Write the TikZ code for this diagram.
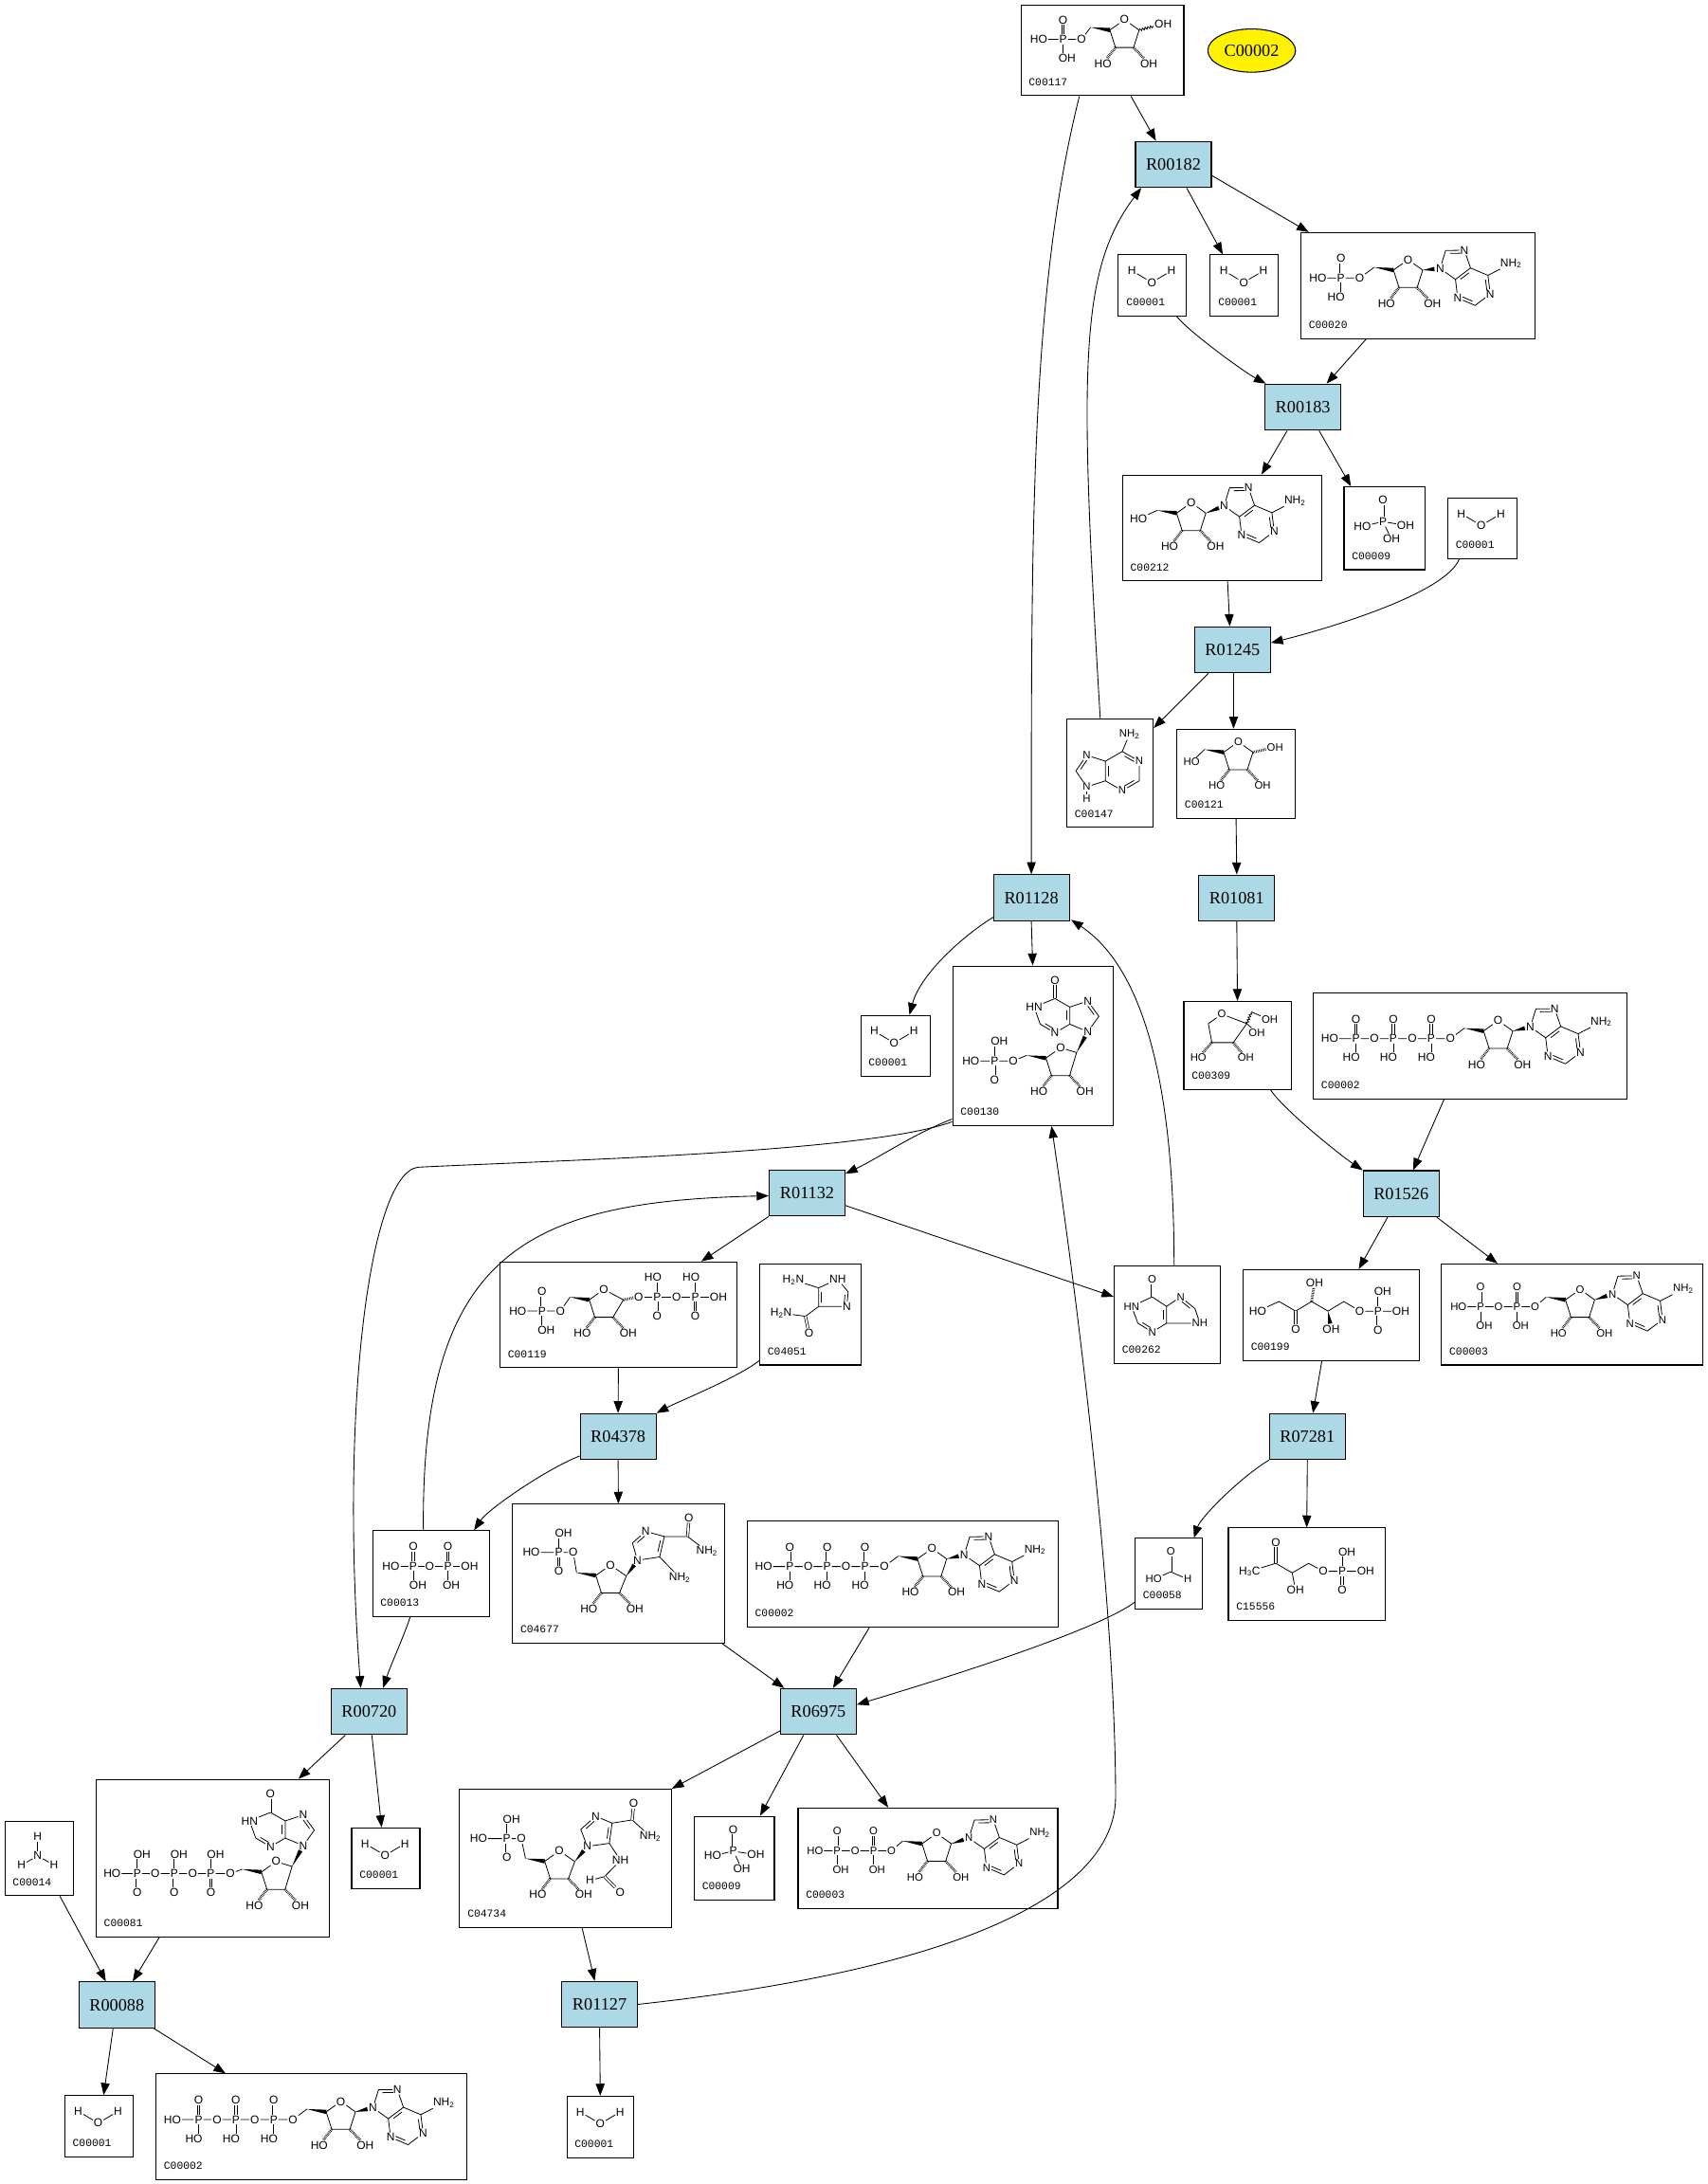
\documentclass[tikz,border=0pt]{standalone}
\usepackage{fontspec}
\setmainfont{Liberation Serif}
\newfontfamily\atomfont{Liberation Sans}
\newfontfamily\idfont{Liberation Mono}
\usetikzlibrary{arrows.meta,calc,positioning,shapes.geometric,decorations.pathmorphing}
\definecolor{rxnblue}{HTML}{ADD8E6}
\newcommand{\asz}{9}
\tikzset{%
	reaction/.style = {draw, rectangle, fill=rxnblue, line width=0.8pt, minimum width=60pt, minimum height=36.4pt, inner sep=0pt, font=\fontsize{13.7}{14}\selectfont},
	compound/.style = {draw, rectangle, line width=0.8pt, inner sep=0pt},
	ellip/.style    = {draw, ellipse, fill=yellow, line width=0.8pt, minimum width=69.4pt, minimum height=34.2pt, inner sep=0pt, font=\fontsize{13.7}{14}\selectfont},
	idlabel/.style  = {inner sep=0pt, font=\idfont\fontsize{8.5}{8.5}\selectfont},
	atm/.style      = {inner sep=0.5pt, font=\atomfont\fontsize{\asz}{\asz}\selectfont}, % atom label
	dbl/.style      = {double, double distance=1.3pt, line width=0.55pt},
	hb/.style       = {line width=2.2pt, dash pattern=on 0.45pt off 0.8pt}, % hashed bond
	wavy/.style     = {decorate, decoration={snake, amplitude=0.9pt, segment length=2.2pt}},
	waypoint/.style = {coordinate},
	link/.style     = {line width=0.65pt, -{Triangle[length=9.5pt,width=7pt]}},
}
% wedge bond, narrow at #2, wide at #3
\newcommand{\wdg}[3][4.5pt]{%
	\coordinate (wq) at ($(#3)!#1!(#2)$);
	\fill (#2) -- ($(wq)!1.7pt!90:(#2)$) -- ($(wq)!1.7pt!-90:(#2)$) -- cycle;}
% inner line of a ring double bond
\newcommand{\ibond}[3]{\draw ($(#1)!0.22!(#2)!2.3pt!#3:(#2)$) -- ($(#1)!0.78!(#2)!2.3pt!#3:(#2)$);}
% P with =O above
\newcommand{\Pu}[5]{%
	\node[atm] (#1) at (#2,#3) {P};
	\node[atm] (#1t) at (#2,#3-14) {O};
	\node[atm] (#1b) at (#2#5,#3+13.6) {#4};
	\draw[dbl] (#1.north) -- (#1.north |- #1t.south);
	\draw (#1.south) -- (#1.south |- #1b.north);}
% P with =O below
\newcommand{\Pd}[5]{%
	\node[atm] (#1) at (#2,#3) {P};
	\node[atm] (#1t) at (#2#5,#3-14) {#4};
	\node[atm] (#1b) at (#2,#3+13.6) {O};
	\draw (#1.north) -- (#1.north |- #1t.south);
	\draw[dbl] (#1.south) -- (#1.south |- #1b.north);}
% ribose ring, ring O at (#1,#2), C1' offset (#3,#4)
\newcommand{\ribring}[4]{%
	\node[atm] (ro) at (#1,#2) {O};
	\coordinate (c1) at (#1+#3,#2+#4);
	\coordinate (c4) at (#1-10.5,#2+7.5);
	\coordinate (c2) at (#1+6.5,#2+20);
	\coordinate (c3) at (#1-6.5,#2+20);
	\coordinate (c5) at (#1-24.3,#2+5.5);
	\node[atm] (ho3) at (#1-15.5,#2+31.5) {HO};
	\node[atm] (oh2) at (#1+17.5,#2+31.5) {OH};
	\draw (c4) -- (ro) -- (c1) -- (c2) -- (c3) -- (c4);
	\draw[hb] (c3) -- (ho3);
	\draw[hb] (c2) -- (oh2);
	\wdg[0pt]{c5}{c4}}
% adenine, N9 at (#1,#2)
\newcommand{\adenine}[2]{%
	\begin{scope}[shift={(#1,#2)}, rotate=7, scale=1.04]
	\node[atm] (n9) at (0,0) {N};
	\coordinate (a8) at (5.3,-11.9);
	\node[atm] (n7) at (18.2,-10.5) {N};
	\coordinate (a5) at (20.9,2.2);
	\coordinate (a4) at (9.6,8.7);
	\coordinate (a6) at (32.2,8.7);
	\node[atm] (n1) at (32.2,21.7) {N};
	\coordinate (a2) at (20.9,28.2);
	\node[atm] (n3) at (9.6,21.7) {N};
	\node[atm] (nh) at (49,2.5) {NH\textsubscript{2}};
	\end{scope}
	\draw (n9) -- (a8) -- (n7) -- (a5) -- (a4) -- (n9);
	\draw (a5) -- (a6) -- (n1) -- (a2) -- (n3) -- (a4);
	\draw (a6) -- (nh);
	\ibond{a8}{n7}{-90}\ibond{a4}{a5}{-90}\ibond{a6}{n1}{-90}\ibond{a2}{n3}{-90}}
% hypoxanthine above a ribose whose ring O is at (#1,#2)
\newcommand{\hypox}[2]{%
	\node[atm] (o6) at (#1-4,#2-48.5) {O};
	\coordinate (h6) at (#1-4,#2-35.3);
	\node[atm] (hn) at (#1-19,#2-29.2) {HN};
	\coordinate (h2) at (#1-14.6,#2-16.9);
	\node[atm] (n3) at (#1-4,#2-10.7) {N};
	\coordinate (h4) at (#1+6.6,#2-16.9);
	\coordinate (h5) at (#1+6.6,#2-29.2);
	\node[atm] (n7) at (#1+19.5,#2-33.5) {N};
	\coordinate (h8) at (#1+27.5,#2-22.5);
	\node[atm] (n9) at (#1+19.5,#2-11.5) {N};
	\draw (h6) -- (hn) -- (h2) -- (n3) -- (h4) -- (h5) -- (h6);
	\draw (h5) -- (n7) -- (h8) -- (n9) -- (h4);
	\draw[dbl] (h6) -- (o6);
	\ibond{h2}{n3}{90}\ibond{h4}{h5}{90}\ibond{n7}{h8}{-90}
	\wdg{c1}{n9}}
% compound box: name, x1, y1, x2, y2, id, structure
\newcommand{\cpd}[7]{%
	\node[compound, minimum width={(#4-#2)*1.102pt}, minimum height={(#5-#3)*1.102pt}] (#1) at ({(#2+#4)/2},{(#3+#5)/2}) {};
	\node[idlabel, anchor=west] at (#2+5.5,#5-9.8) {#6};
	\begin{scope}[shift={(#2,#3)}, line width=0.6pt]#7\end{scope}}
% structures
\newcommand{\molW}{%
	\node[atm] (h1) at (9.7,11.3) {H};
	\node[atm] (o1) at (24,19.8) {O};
	\node[atm] (h2) at (38.2,11.3) {H};
	\draw (h1) -- (o1) -- (h2);}
\newcommand{\molNH}{%
	\node[atm] (n1) at (23.6,24.9) {N};
	\node[atm] (h1) at (23.6,11) {H};
	\node[atm] (h2) at (12,31.5) {H};
	\node[atm] (h3) at (35.2,31.5) {H};
	\draw (n1) -- (h1); \draw (n1) -- (h2); \draw (n1) -- (h3);}
\newcommand{\molPi}{%
	\node[atm] (pa) at (28,25) {P};
	\node[atm] (o1) at (28,9.5) {O};
	\node[atm] (o2) at (13.2,28.4) {HO};
	\node[atm] (o3) at (44.2,27.7) {OH};
	\node[atm] (o4) at (34.1,37.6) {OH};
	\draw[dbl] (pa) -- (o1);
	\draw (pa) -- (o2); \draw (pa) -- (o3); \draw (pa) -- (o4);}
\newcommand{\molPPi}{%
	\node[atm] (ho) at (13.2,25.4) {HO};
	\Pu{pa}{29.2}{25.4}{OH}{+3.4}
	\node[atm] (oa) at (41,25.4) {O};
	\Pu{pb}{54.1}{25.4}{OH}{+2.4}
	\node[atm] (oh) at (69.7,25.4) {OH};
	\draw (ho) -- (pa) -- (oa) -- (pb) -- (oh);}
\newcommand{\molFOR}{%
	\renewcommand{\asz}{8.5}
	\node[atm] (o1) at (25.6,9.4) {O};
	\coordinate (f1) at (25.6,24);
	\node[atm] (ho) at (13.3,29.3) {HO};
	\node[atm] (h1) at (37.8,29.3) {H};
	\draw[dbl] (f1) -- (o1);
	\draw (ho) -- (f1) -- (h1);}
\newcommand{\molATP}{%
	\node[atm] (ho) at (11.8,32.7) {HO};
	\Pu{pa}{30.6}{32.7}{HO}{-3.4}
	\node[atm] (oa) at (43.8,32.7) {O};
	\Pu{pb}{57.4}{32.7}{HO}{-3.4}
	\node[atm] (ob) at (71,32.7) {O};
	\Pu{pc}{84.6}{32.7}{HO}{-3.4}
	\node[atm] (oc) at (98.4,32.7) {O};
	\ribring{132.7}{19.7}{10.5}{7.5}
	\adenine{155.8}{24.3}
	\draw (ho) -- (pa) -- (oa) -- (pb) -- (ob) -- (pc) -- (oc) -- (c5);
	\wdg{c1}{n9}}
\newcommand{\molNAD}{%
	\renewcommand{\asz}{8.5}
	\node[atm] (ho) at (12.2,30.7) {HO};
	\Pu{pa}{28.1}{30.7}{OH}{+2.6}
	\node[atm] (oa) at (41,30.7) {O};
	\Pu{pb}{54.2}{30.7}{OH}{+2.6}
	\node[atm] (ob) at (67.1,30.7) {O};
	\ribring{99.5}{18.2}{10.5}{7.5}
	\adenine{122.7}{21.6}
	\draw (ho) -- (pa) -- (oa) -- (pb) -- (ob) -- (c5);
	\wdg{c1}{n9}}
\newcommand{\molAMP}{%
	\node[atm] (ho) at (12.2,32.6) {HO};
	\Pu{pa}{28.8}{32.6}{HO}{-3.4}
	\node[atm] (oa) at (42.2,32.6) {O};
	\ribring{77}{19.4}{10.5}{7.5}
	\adenine{100}{25.8}
	\draw (ho) -- (pa) -- (oa) -- (c5);
	\wdg{c1}{n9}}
\newcommand{\molADO}{%
	\node[atm] (ho) at (11.5,31.5) {HO};
	\ribring{49.3}{19.9}{10.5}{7.5}
	\adenine{72.9}{22.2}
	\draw (ho) -- (c5);
	\wdg{c1}{n9}}
\newcommand{\molADE}{%
	\renewcommand{\asz}{8.5}
	\node[atm] (nh) at (45,10.7) {NH\textsubscript{2}};
	\coordinate (a6) at (39.8,23);
	\node[atm] (n1) at (52,30) {N};
	\coordinate (a2) at (52,44.1);
	\node[atm] (n3) at (39.8,51.1) {N};
	\coordinate (a4) at (27.7,44.1);
	\coordinate (a5) at (27.7,30);
	\node[atm] (n7) at (14.3,25.7) {N};
	\coordinate (a8) at (6.5,37);
	\node[atm] (n9) at (14.3,48.4) {N};
	\node[atm] (h9) at (14.3,57) {H};
	\draw (a5) -- (a6) -- (n1) -- (a2) -- (n3) -- (a4) -- (a5);
	\draw (a5) -- (n7) -- (a8) -- (n9) -- (a4);
	\draw (a6) -- (nh); \draw (n9) -- (h9);
	\ibond{a6}{n1}{-90}\ibond{a2}{n3}{-90}\ibond{a4}{a5}{-90}\ibond{n7}{a8}{90}}
\newcommand{\molRFP}{%
	\node[atm] (ho) at (12.8,24.8) {HO};
	\Pu{pa}{30.3}{24.8}{OH}{+2.9}
	\node[atm] (oa) at (43.6,24.8) {O};
	\ribring{74.4}{10.6}{10.5}{7.5}
	\node[atm] (oh1) at (102.2,13.5) {OH};
	\draw (ho) -- (pa) -- (oa) -- (c5);
	\draw[wavy] (c1) -- (oh1);}
\newcommand{\molRIB}{%
	\renewcommand{\asz}{8.5}
	\ribring{44.1}{9.1}{10.5}{7.5}
	\node[atm] (ho) at (10.5,23.6) {HO};
	\node[atm] (oh1) at (70.5,13) {OH};
	\draw (ho) -- (c5);
	\draw[hb] (c1) -- (oh1);}
\newcommand{\molPRPP}{%
	\node[atm] (ho) at (12.8,35.2) {HO};
	\Pu{pa}{30.2}{35.2}{OH}{+3}
	\node[atm] (oa) at (43.4,35.2) {O};
	\ribring{74.6}{19.7}{14}{7.5}
	\node[atm] (o1) at (99.6,25) {O};
	\Pd{pb}{112.8}{25}{HO}{-3}
	\node[atm] (ob) at (126.7,25) {O};
	\Pd{pc}{140.2}{25}{HO}{-3}
	\node[atm] (oh) at (156.8,25) {OH};
	\draw (ho) -- (pa) -- (oa) -- (c5);
	\draw[hb] (c1) -- (o1);
	\draw (o1) -- (pb) -- (ob) -- (pc) -- (oh);}
\newcommand{\molIMP}{%
	\ribring{77.5}{58.7}{11.5}{3.5}
	\hypox{77.5}{58.7}
	\node[atm] (o5) at (43.6,68.2) {O};
	\Pd{pa}{30.1}{68.2}{OH}{+3.4}
	\node[atm] (ho) at (13.1,68.2) {HO};
	\draw (ho) -- (pa) -- (o5) -- (c5);}
\newcommand{\molITP}{%
	\ribring{129.2}{59}{11.5}{3.5}
	\hypox{129.2}{59}
	\node[atm] (o5) at (96.4,67.6) {O};
	\Pd{pc}{82.4}{67.6}{OH}{+3.4}
	\node[atm] (ob) at (69.3,67.6) {O};
	\Pd{pb}{56.1}{67.6}{OH}{+3.4}
	\node[atm] (oa) at (42.5,67.6) {O};
	\Pd{pa}{29.6}{67.6}{OH}{+3.4}
	\node[atm] (ho) at (11.5,67.6) {HO};
	\draw (ho) -- (pa) -- (oa) -- (pb) -- (ob) -- (pc) -- (o5) -- (c5);}
\newcommand{\molRUL}{%
	\renewcommand{\asz}{8.5}
	\node[atm] (ro) at (27.3,9.1) {O};
	\coordinate (b1) at (17.6,15.9);
	\coordinate (b2) at (20.1,29.5);
	\coordinate (b3) at (35.5,29.5);
	\coordinate (b4) at (45.2,15.9);
	\coordinate (b5) at (48.6,7.5);
	\node[atm] (oh4) at (52.4,22.4) {OH};
	\node[atm] (oh5) at (61.7,13.2) {OH};
	\node[atm] (ho2) at (10.4,40.3) {HO};
	\node[atm] (oh3) at (44.5,40.3) {OH};
	\draw (b1) -- (ro) -- (b4) -- (b3) -- (b2) -- (b1);
	\draw (b4) -- (oh4);
	\draw[wavy] (b4) -- (b5);
	\draw (b5) -- (oh5);
	\draw[hb] (b2) -- (ho2);
	\draw[hb] (b3) -- (oh3);}
\newcommand{\molRLP}{%
	\node[atm] (ho) at (10.5,29.8) {HO};
	\coordinate (k1) at (25.9,22.9);
	\coordinate (k2) at (37.8,29.8);
	\node[atm] (ok) at (37.8,42.8) {O};
	\coordinate (k3) at (49.2,22.9);
	\node[atm] (oh3) at (51.4,9.2) {OH};
	\coordinate (k4) at (61,29.8);
	\node[atm] (oh4) at (63.3,42.8) {OH};
	\coordinate (k5) at (72.4,22.9);
	\node[atm] (oa) at (83.8,29.8) {O};
	\Pd{pa}{96.9}{29.8}{OH}{+3.4}
	\node[atm] (oh) at (113.3,29.8) {OH};
	\draw (ho) -- (k1) -- (k2) -- (k3) -- (k4) -- (k5) -- (oa) -- (pa) -- (oh);
	\draw[dbl] (k2) -- (ok);
	\draw[hb] (k3) -- (oh3);
	\wdg{k4}{oh4}}
\newcommand{\molHBP}{%
	\node[atm] (o1) at (34,10.2) {O};
	\coordinate (k2) at (34,25.4);
	\node[atm] (me) at (15.2,31.1) {H\textsubscript{3}C};
	\coordinate (k3) at (45.8,32.2);
	\node[atm] (oh3) at (48.1,44.2) {OH};
	\coordinate (k4) at (57.6,25.4);
	\node[atm] (oa) at (68.1,31.1) {O};
	\Pd{pa}{81.7}{31.1}{OH}{+3.4}
	\node[atm] (oh) at (98.5,31.1) {OH};
	\draw[dbl] (k2) -- (o1);
	\draw (me) -- (k2) -- (k3) -- (k4) -- (oa) -- (pa) -- (oh);
	\draw (k3) -- (oh3);}
\newcommand{\molAIC}{%
	\node[atm] (na) at (24.1,11.4) {H\textsubscript{2}N};
	\coordinate (i5) at (42.3,17.1);
	\node[atm] (n1) at (56,11) {NH};
	\coordinate (i2) at (63.5,20);
	\node[atm] (n3) at (62.5,30.5) {N};
	\coordinate (i4) at (42.3,30.5);
	\coordinate (ca) at (32.8,37.5);
	\node[atm] (oc) at (35.3,49.6) {O};
	\node[atm] (nb) at (15.4,35.2) {H\textsubscript{2}N};
	\draw (i5) -- (n1) -- (i2) -- (n3) -- (i4) -- (i5);
	\draw (na) -- (i5); \draw (i4) -- (ca) -- (nb);
	\draw[dbl] (ca) -- (oc);
	\ibond{i4}{i5}{-90}\ibond{i2}{n3}{-90}}
\newcommand{\molHPX}{%
	\renewcommand{\asz}{8.5}
	\node[atm] (o6) at (27.3,9.7) {O};
	\coordinate (h6) at (27.3,22.1);
	\node[atm] (hn) at (12.5,28.9) {HN};
	\coordinate (h2) at (17,41);
	\node[atm] (n3) at (27.3,47.3) {N};
	\coordinate (h4) at (37.6,41);
	\coordinate (h5) at (37.6,28.9);
	\node[atm] (n7) at (47.7,22.1) {N};
	\coordinate (h8) at (58,30.5);
	\node[atm] (n9) at (61.5,41) {NH};
	\draw (h6) -- (hn) -- (h2) -- (n3) -- (h4) -- (h5) -- (h6);
	\draw (h5) -- (n7) -- (h8) -- (n9) -- (h4);
	\draw[dbl] (h6) -- (o6);
	\ibond{h2}{n3}{90}\ibond{h4}{h5}{90}\ibond{n7}{h8}{-90}}
\newcommand{\molAICAR}{%
	\node[atm] (ho) at (13.5,34.6) {HO};
	\Pd{pa}{33.2}{34.6}{OH}{+3.4}
	\node[atm] (o5) at (43.6,34.6) {O};
	\ribring{70.3}{43.6}{11.4}{7.9}
	\node[atm] (n1) at (89.7,40.2) {N};
	\coordinate (j2) at (86.1,27.8);
	\node[atm] (n3) at (95.6,19.4) {N};
	\coordinate (j4) at (109,23.1);
	\coordinate (j5) at (105.6,37.8);
	\coordinate (ca) at (125.7,23.1);
	\node[atm] (oc) at (126.7,9.7) {O};
	\node[atm] (nc) at (139.6,33.7) {NH\textsubscript{2}};
	\node[atm] (nd) at (120,52.7) {NH\textsubscript{2}};
	\draw (ho) -- (pa) -- (o5) -- (c5);
	\draw (n1) -- (j2) -- (n3) -- (j4) -- (j5) -- (n1);
	\draw (j4) -- (ca) -- (nc); \draw[dbl] (ca) -- (oc);
	\draw (j5) -- (nd);
	\wdg{c1}{n1}
	\ibond{j2}{n3}{-90}\ibond{j4}{j5}{-90}}
\newcommand{\molFAICAR}{%
	\node[atm] (ho) at (13.6,35.5) {HO};
	\Pd{pa}{33.9}{35.5}{OH}{+3.4}
	\node[atm] (o5) at (44.3,35.5) {O};
	\ribring{71.6}{44.3}{11.1}{7.7}
	\node[atm] (n1) at (91.7,41.1) {N};
	\coordinate (j2) at (87,28.9);
	\node[atm] (n3) at (97.7,19.4) {N};
	\coordinate (j4) at (109.5,24.4);
	\coordinate (j5) at (107.5,38.9);
	\coordinate (ca) at (123.9,22.1);
	\node[atm] (oc) at (125,10.4) {O};
	\node[atm] (nc) at (136.9,33.9) {NH\textsubscript{2}};
	\node[atm] (nd) at (115.5,51.1) {NH};
	\coordinate (cf) at (104.1,62.8);
	\node[atm] (hf) at (93.6,65.5) {H};
	\node[atm] (of) at (115.2,74.1) {O};
	\draw (ho) -- (pa) -- (o5) -- (c5);
	\draw (n1) -- (j2) -- (n3) -- (j4) -- (j5) -- (n1);
	\draw (j4) -- (ca) -- (nc); \draw[dbl] (ca) -- (oc);
	\draw (j5) -- (nd) -- (cf) -- (hf); \draw[dbl] (cf) -- (of);
	\wdg{c1}{n1}
	\ibond{j2}{n3}{-90}\ibond{j4}{j5}{-90}}

\begin{document}
\begin{tikzpicture}[x=1.102pt, y=-1.102pt]
	\useasboundingbox (0,0) rectangle (1226,1568);
	% reactions
	\node[reaction] (r00182) at (842.5,118) {R00182};
	\node[reaction] (r00183) at (935.5,292.3) {R00183};
	\node[reaction] (r01245) at (885,466.5) {R01245};
	\node[reaction] (r01128) at (740.5,644.5) {R01128};
	\node[reaction] (r01081) at (888,644.7) {R01081};
	\node[reaction] (r01132) at (579.5,856.5) {R01132};
	\node[reaction] (r01526) at (1006,857) {R01526};
	\node[reaction] (r04378) at (443.8,1031.4) {R04378};
	\node[reaction] (r07281) at (938.7,1031.4) {R07281};
	\node[reaction] (r00720) at (265,1228.8) {R00720};
	\node[reaction] (r06975) at (587.6,1228.8) {R06975};
	\node[reaction] (r00088) at (83.9,1439.4) {R00088};
	\node[reaction] (r01127) at (430.5,1439) {R01127};
	% compounds
	\node[ellip] (c002) at (898.7,36.3) {C00002};
	\cpd{c117}{733}{3.5}{850}{68.7}{C00117}{\molRFP}
	\cpd{c001a}{803}{183}{852}{227}{C00001}{\molW}
	\cpd{c001b}{869}{183}{918}{227}{C00001}{\molW}
	\cpd{c020}{934}{167}{1102}{243}{C00020}{\molAMP}
	\cpd{c212}{806}{341}{949}{417}{C00212}{\molADO}
	\cpd{c009a}{965}{349.5}{1023}{409}{C00009}{\molPi}
	\cpd{c001c}{1039.5}{357.5}{1089}{401}{C00001}{\molW}
	\cpd{c147}{766}{516.5}{828}{594}{C00147}{\molADE}
	\cpd{c121}{845}{523.5}{930}{587.5}{C00121}{\molRIB}
	\cpd{c001d}{618}{729}{668}{772.5}{C00001}{\molW}
	\cpd{c130}{684}{693.5}{799}{808}{C00130}{\molIMP}
	\cpd{c309}{850}{719}{927}{782}{C00309}{\molRUL}
	\cpd{c002b}{943}{713}{1168}{789}{C00002}{\molATP}
	\cpd{c119}{359}{906}{529}{982}{C00119}{\molPRPP}
	\cpd{c04051}{545.5}{907.5}{618}{980}{C04051}{\molAIC}
	\cpd{c262}{800}{909}{876}{979}{C00262}{\molHPX}
	\cpd{c199}{892.5}{911.5}{1019}{977}{C00199}{\molRLP}
	\cpd{c003a}{1035}{907.5}{1222.5}{980}{C00003}{\molNAD}
	\cpd{c013}{267.5}{1099}{351.5}{1160.5}{C00013}{\molPPi}
	\cpd{c4677}{368}{1080}{520}{1179.5}{C04677}{\molAICAR}
	\cpd{c002c}{536.5}{1092}{760}{1168}{C00002}{\molATP}
	\cpd{c058}{815}{1104.5}{863.5}{1155}{C00058}{\molFOR}
	\cpd{c15556}{882}{1097}{994.5}{1163.3}{C15556}{\molHBP}
	\cpd{c001e}{252.5}{1312.3}{301.5}{1356}{C00001}{\molW}
	\cpd{c4734}{330}{1284.5}{482}{1384}{C04734}{\molFAICAR}
	\cpd{c009b}{498.5}{1304}{556}{1364}{C00009}{\molPi}
	\cpd{c003b}{573}{1298}{759.5}{1370}{C00003}{\molNAD}
	\cpd{c014}{3.5}{1307.5}{52.5}{1361}{C00014}{\molNH}
	\cpd{c081}{69}{1277.5}{236.5}{1390.5}{C00081}{\molITP}
	\cpd{c001f}{46.5}{1504.5}{95.5}{1548.5}{C00001}{\molW}
	\cpd{c002d}{112}{1489}{335}{1565}{C00002}{\molATP}
	\cpd{c001g}{407}{1505}{455}{1549}{C00001}{\molW}
	\node [waypoint] (wp1) at (300,838) {};
	\node [waypoint] (wp2) at (801,1290) {};

	% links
	\draw[link] ($(c117.south)+(20.5,0)$) -- ($(r00182.north)+(-12.5,0)$);
	\draw[link] ($(c117.south)+(-16.5,0)$) .. controls +(-35,140) and +(0,-250) .. (r01128.north);
	\draw[link] ($(r00182.south)+(9.5,0)$) -- ($(c001b.north)+(-15.5,0)$);
	\draw[link] ($(r00182.east)+(0,8)$) -- ($(c020.north west)+(6,0)$);
	\draw[link] ($(c001a.south)+(17.5,0)$) .. controls +(10,12) and +(-15,-8) .. ($(r00183.north west)+(1,0)$);
	\draw[link] ($(c020.south)+(-37,0)$) -- ($(r00183.north)+(17,0)$);
	\draw[link] ($(r00183.south)+(-11.3,0)$) -- ($(c212.north)+(28.3,0)$);
	\draw[link] ($(r00183.south)+(11.6,0)$) -- ($(c009a.north)+(-24,0)$);
	\draw[link] ($(c212.south)+(3.9,0)$) -- ($(r01245.north)+(-2,0)$);
	\draw[link] ($(c001c.south)+(-16.5,0)$) .. controls +(-10,25) and +(40,-10) .. ($(r01245.east)+(0,-5)$);
	\draw[link] ($(r01245.south)+(-17.3,0)$) -- ($(c147.north east)+(0,6.5)$);
	\draw[link] ($(r01245.south)+(0.7,0)$) -- ($(c121.north)+(-1.8,0)$);
	\draw[link] ($(c147.north)+(-7,0)$) .. controls +(-15,-250) and +(-45,60) .. ($(r00182.south west)+(4.5,0)$);
	\draw[link] (c121.south) -- (r01081.north);
	\draw[link] ($(r01128.south west)+(0.5,-3)$) .. controls +(-20,12) and +(8,-30) .. ($(c001d.north)+(10,0)$);
	\draw[link] (r01128.south) -- (c130.north);
	\draw[link] (r01081.south) -- (c309.north);
	\draw[link] ($(c130.south west)+(0,-5)$) .. controls +(-30,12) and +(25,-12) .. ($(r01132.north east)+(0,3)$);
	\draw[link] ($(c130.south west)+(0,-3)$) .. controls +(-60,22) and +(100,-5) .. (wp1) .. controls +(-35,5) and +(-15,-200) .. ($(r00720.north)+(-6,0)$);
	\draw[link] ($(c309.south)+(23.7,0)$) .. controls +(10,15) and +(-15,-10) .. (r01526.north west);
	\draw[link] ($(c002b.south)+(-18.7,0)$) -- ($(r01526.north)+(8.6,0)$);
	\draw[link] ($(r01526.south)+(-9.7,0)$) -- ($(c199.north)+(19.8,0)$);
	\draw[link] ($(r01526.south east)+(-2,0)$) -- ($(c003a.north)+(-53.5,0)$);
	\draw[link] (r01132.south west) -- ($(c119.north)+(59.5,0)$);
	\draw[link] ($(r01132.east)+(0,9)$) -- ($(c262.west)+(0,-13)$);
	\draw[link] ($(c262.north)+(5,0)$) .. controls +(0,-150) and +(45,30) .. ($(r01128.south east)+(1,-1)$);
	\draw[link] (c119.south) -- (r04378.north);
	\draw[link] ($(c04051.south west)+(0,-3.5)$) .. controls +(-15,12) and +(15,-8) .. (r04378.north east);
	\draw[link] ($(c199.south)+(-6.7,0)$) -- ($(r07281.north)+(4,0)$);
	\draw[link] ($(r04378.south west)+(0,-3)$) .. controls +(-25,10) and +(10,-15) .. ($(c013.north east)+(-11.5,0)$);
	\draw[link] (r04378.south) -- (c4677.north);
	\draw[link] ($(c013.north)+(-5.5,0)$) .. controls +(-2,-200) and +(-173,4) .. ($(r01132.west)+(0,2)$);
	\draw[link] (r07281.south west) .. controls +(-20,12) and +(5,-15) .. ($(c058.north)+(18,0)$);
	\draw[link] (r07281.south) -- (c15556.north);
	\draw[link] ($(c013.south)+(-15,0)$) .. controls +(-3,10) and +(5,-15) .. ($(r00720.north)+(10,0)$);
	\draw[link] ($(c4677.south east)+(-2,0)$) -- ($(r06975.north west)+(3,0)$);
	\draw[link] ($(c002c.south)+(-24,0)$) -- ($(r06975.north)+(10.5,0)$);
	\draw[link] ($(c058.south west)+(0,-5)$) .. controls +(-30,22) and +(50,-15) .. ($(r06975.east)+(0,-5)$);
	\draw[link] ($(r00720.south)+(-17,0)$) -- ($(c081.north)+(61.5,0)$);
	\draw[link] ($(r00720.south)+(2,0)$) -- ($(c001e.north)+(-3,0)$);
	\draw[link] ($(r06975.south west)+(0,-3)$) -- (c4734.north east);
	\draw[link] ($(r06975.south)+(-10.6,0)$) -- ($(c009b.north)+(18.5,0)$);
	\draw[link] ($(r06975.south)+(13,0)$) -- ($(c003b.north)+(-28.5,0)$);
	\draw[link] ($(c014.south)+(15,0)$) -- ($(r00088.north)+(-7.9,0)$);
	\draw[link] ($(c081.south)+(-38.3,0)$) -- ($(r00088.north)+(11.4,0)$);
	\draw[link] ($(c4734.south)+(12,0)$) -- ($(r01127.north)+(-3.5,0)$);
	\draw[link] (r01127.east) .. controls +(230,-25) and +(0,70) .. (wp2) .. controls +(0,-120) and +(25,170) .. ($(c130.south)+(13.5,0)$);
	\draw[link] ($(r00088.south)+(-2.7,0)$) -- ($(c001f.north)+(3.4,0)$);
	\draw[link] ($(r00088.south east)+(-1,0)$) -- ($(c002d.north)+(-61.5,0)$);
	\draw[link] (r01127.south) -- (c001g.north);
\end{tikzpicture}
\end{document}
